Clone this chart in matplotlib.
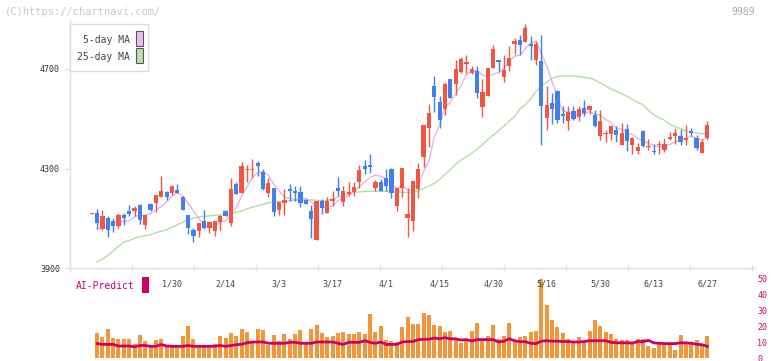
import numpy as np
import pandas as pd
import matplotlib
matplotlib.use('Agg')
import matplotlib.pyplot as plt
from matplotlib.patches import Rectangle

plt.rcParams['font.family'] = ['DejaVu Sans Mono']

# --- data ---
opens = [4118, 4120, 4056, 4100, 4088, 4068, 4112, 4128, 4128, 4152, 4072, 4156, 4160, 4184, 4204, 4200,
         4212, 4184, 4112, 4052, 4048, 4088, 4060, 4048, 4084, 4128, 4080, 4236, 4200, 4294, 4294, 4324,
         4284, 4200, 4220, 4132, 4160, 4216, 4208, 4204, 4172, 4128, 4012, 4168, 4120, 4168, 4220, 4164,
         4196, 4204, 4244, 4312, 4316, 4220, 4244, 4260, 4296, 4149, 4221, 4101, 4089, 4217, 4345, 4461,
         4633, 4568, 4540, 4660, 4640, 4688, 4720, 4684, 4692, 4548, 4592, 4704, 4736, 4668, 4712, 4800,
         4816, 4808, 4798, 4736, 4732, 4504, 4564, 4612, 4520, 4492, 4532, 4508, 4544, 4536, 4516, 4432,
         4440, 4440, 4456, 4396, 4460, 4396, 4372, 4452, 4386, 4370, 4396, 4376, 4420, 4432, 4432, 4416,
         4452, 4424, 4364, 4424]
highs = [4122, 4136, 4132, 4108, 4100, 4120, 4120, 4152, 4148, 4156, 4112, 4160, 4192, 4268, 4208, 4232,
         4236, 4188, 4112, 4060, 4080, 4132, 4084, 4088, 4112, 4132, 4260, 4244, 4328, 4316, 4340, 4332,
         4296, 4260, 4222, 4164, 4216, 4236, 4228, 4228, 4176, 4152, 4168, 4176, 4184, 4208, 4264, 4228,
         4244, 4244, 4313, 4333, 4357, 4253, 4256, 4297, 4301, 4221, 4301, 4221, 4249, 4321, 4473, 4561,
         4673, 4592, 4648, 4660, 4736, 4748, 4756, 4712, 4712, 4660, 4704, 4796, 4736, 4756, 4792, 4824,
         4836, 4880, 4832, 4812, 4836, 4632, 4604, 4616, 4552, 4552, 4552, 4552, 4576, 4552, 4536, 4536,
         4456, 4476, 4472, 4484, 4480, 4428, 4404, 4456, 4420, 4400, 4412, 4424, 4448, 4464, 4460, 4476,
         4464, 4436, 4420, 4492]
lows = [4118, 4056, 4052, 4024, 4044, 4060, 4072, 4108, 4108, 4076, 4056, 4128, 4124, 4184, 4172, 4192,
        4200, 4132, 4036, 4004, 4024, 4056, 4040, 4028, 4052, 4108, 4068, 4196, 4200, 4244, 4260, 4268,
        4212, 4184, 4108, 4112, 4112, 4168, 4168, 4144, 4156, 4020, 4012, 4116, 4120, 4148, 4188, 4148,
        4188, 4188, 4221, 4277, 4281, 4209, 4209, 4209, 4181, 4129, 4185, 4025, 4049, 4181, 4305, 4385,
        4529, 4464, 4516, 4584, 4596, 4684, 4684, 4680, 4584, 4508, 4592, 4704, 4688, 4648, 4692, 4760,
        4756, 4808, 4736, 4716, 4396, 4456, 4480, 4484, 4484, 4456, 4496, 4492, 4512, 4520, 4468, 4416,
        4408, 4416, 4408, 4396, 4372, 4360, 4360, 4388, 4376, 4360, 4360, 4368, 4416, 4400, 4396, 4396,
        4432, 4376, 4364, 4416]
closes = [4122, 4080, 4108, 4052, 4068, 4112, 4100, 4116, 4140, 4092, 4112, 4132, 4192, 4208, 4184, 4228,
          4200, 4132, 4060, 4028, 4080, 4060, 4084, 4088, 4108, 4108, 4216, 4196, 4312, 4298, 4298, 4312,
          4216, 4240, 4124, 4164, 4172, 4208, 4200, 4160, 4156, 4096, 4168, 4140, 4168, 4176, 4208, 4208,
          4204, 4224, 4292, 4296, 4308, 4244, 4208, 4228, 4200, 4221, 4301, 4117, 4249, 4297, 4473, 4525,
          4589, 4496, 4640, 4584, 4700, 4740, 4728, 4700, 4604, 4608, 4704, 4780, 4728, 4696, 4744, 4812,
          4796, 4864, 4794, 4800, 4552, 4556, 4540, 4496, 4512, 4528, 4500, 4540, 4524, 4552, 4472, 4492,
          4444, 4472, 4436, 4444, 4412, 4424, 4388, 4392, 4390, 4366, 4400, 4400, 4428, 4444, 4408, 4424,
          4444, 4384, 4408, 4476]
# closes before the first visible day (needed for the 5-day average)
prior_closes = [4088, 4012, 3978]

# 25-day MA as drawn (day 1 onwards)
ma25 = [3924, 3936, 3950, 3968, 3988, 4004, 4010, 4020, 4026, 4030, 4034, 4042, 4048, 4054, 4064, 4074,
        4084, 4094, 4100, 4106, 4108, 4110, 4112, 4113, 4116, 4120, 4124, 4130, 4138, 4144, 4150, 4156,
        4162, 4166, 4168, 4168, 4170, 4172, 4172, 4174, 4174, 4172, 4170, 4172, 4176, 4184, 4192, 4200,
        4204, 4206, 4208, 4208, 4208, 4208, 4208, 4208, 4206, 4204, 4204, 4206, 4210, 4220, 4230, 4240,
        4256, 4276, 4296, 4318, 4334, 4348, 4362, 4378, 4396, 4416, 4434, 4452, 4470, 4490, 4510, 4540,
        4556, 4580, 4610, 4630, 4648, 4662, 4670, 4672, 4672, 4672, 4670, 4666, 4664, 4656, 4644, 4632,
        4620, 4610, 4600, 4590, 4578, 4566, 4556, 4534, 4516, 4504, 4494, 4478, 4468, 4460, 4452, 4446,
        4442, 4440, 4440]

# volume and AI-Predict (day 1 onwards)
volume = [15.6, 13.1, 17.9, 12.5, 11.7, 11.7, 11.7, 9.0, 14.2, 10.6, 7.9, 11.0, 11.7, 8.3, 7.3, 7.3,
          13.5, 20.0, 11.7, 7.3, 7.3, 7.3, 9.0, 13.5, 12.5, 15.6, 13.5, 17.9, 16.2, 10.6, 18.3, 17.3,
          7.9, 14.2, 10.6, 15.2, 11.7, 14.8, 17.3, 10.0, 17.9, 20.4, 15.6, 13.1, 13.5, 15.6, 16.2, 15.2,
          14.8, 16.2, 14.8, 27.3, 16.2, 19.8, 11.0, 10.6, 10.0, 19.4,
          25.6, 21.1, 21.1, 28.1, 26.7, 20.4, 19.8, 16.2, 16.9, 11.7, 9.4, 11.0, 16.9, 21.9, 11.0, 13.5,
          20.4, 12.1, 13.5, 21.9, 11.0, 13.1, 13.5, 16.2, 16.9, 49.2, 32.9, 23.6, 19.4, 15.6, 11.7, 10.6,
          12.9, 10.6, 16.9, 23.6, 19.8, 16.2, 14.8, 12.1, 11.0, 11.0, 10.0, 12.1, 12.1, 7.3, 6.4, 9.0,
          8.5, 9.0, 5.2, 14.2, 9.0, 10.0, 11.0, 8.5, 13.5]
ai_predict = [9.0, 8.5, 8.5, 8.5, 7.5, 7.5, 7.5, 7.0, 7.8, 7.8, 7.3, 7.3, 8.4, 7.5, 7.3, 7.3,
              7.3, 7.8, 7.3, 7.3, 7.3, 7.3, 7.3, 7.8, 7.3, 7.8, 8.3, 8.6, 9.5, 10.0, 10.0, 10.0,
              9.2, 9.2, 9.2, 9.2, 9.8, 9.8, 9.2, 9.2, 9.2, 10.0, 10.0, 10.0, 10.0, 9.2, 8.5, 9.8,
              9.8, 9.8, 10.8, 9.8, 9.2, 10.0, 8.5, 8.5, 8.5, 10.0,
              10.3, 10.3, 11.5, 11.7, 11.7, 12.5, 12.0, 12.7, 12.0, 12.0, 11.2, 11.5, 10.6, 11.5, 11.5, 11.5,
              11.5, 10.0, 10.5, 12.0, 10.8, 10.2, 10.2, 9.2, 9.0, 10.5, 10.8, 10.5, 10.5, 10.3, 10.3, 10.0,
              10.0, 10.3, 10.8, 10.8, 10.8, 10.8, 9.8, 9.5, 9.5, 9.5, 9.3, 10.3, 10.3, 11.0, 9.5, 9.2,
              9.0, 9.0, 9.0, 9.5, 9.5, 9.2, 8.6, 8.3, 7.3]

date_labels = ['1/30', '2/14', '3/3', '3/17', '4/1', '4/15', '4/30', '5/16', '5/30', '6/13', '6/27']
date_pos = [15, 25, 35, 45, 55, 65, 75, 85, 95, 105, 115]
price_ticks = [3900, 4300, 4700]
vol_ticks = [0, 10, 20, 30, 40, 50]

# --- layout helpers (pixels of the 772x361 picture) ---
W, H = 772, 361
def fx(px):
    return px / W
def fy(py):
    return 1 - py / H

RED = '#f25540'
BLUE = '#3f7ff0'
GRID = '#e0e0e0'
MAGENTA = '#cc0066'

x = np.arange(len(closes))
xv = np.arange(1, len(closes))
ma5 = pd.Series(prior_closes + closes).rolling(5).mean().values[len(prior_closes):]

x_left, x_right = (70 - 91.7) / 5.353, (755 - 91.7) / 5.353

fig = plt.figure(figsize=(W / 100, H / 100), dpi=100)
axv = fig.add_axes([fx(70), fy(358), fx(755) - fx(70), fy(278) - fy(358)])
ax = fig.add_axes([fx(70), fy(268), fx(755) - fx(70), fy(20) - fy(268)])
ax.patch.set_visible(False)
axv.patch.set_visible(False)

# --- candles + moving averages ---
o = np.array(opens)
c = np.array(closes)
cols = [RED if cc >= oo else BLUE for oo, cc in zip(o, c)]
ax.plot(xv, ma25, color='#b4dca4', lw=1, zorder=1)
ax.plot(x[1:], ma5[1:], color='#e6b4e6', lw=1, zorder=1)
ax.vlines(x, lows, highs, colors=cols, lw=1, zorder=2)
ax.bar(x, np.maximum(np.abs(c - o), 4.5), 0.8, np.minimum(o, c), color=cols, lw=0, zorder=3)

ax.set_xlim(x_left, x_right)
ax.set_ylim(3900, 4700 + 49 * 800 / 199)
for s in ['top', 'right']:
    ax.spines[s].set_visible(False)
for s in ['left', 'bottom']:
    ax.spines[s].set_color(GRID)
    ax.spines[s].set_linewidth(1)
ax.set_yticks(price_ticks)
ax.set_yticklabels([str(t) for t in price_ticks])
ax.tick_params(axis='y', length=3.6, width=1, color=GRID, pad=3.6, labelsize=6, labelcolor='#333333')
ax.set_xticks([x_left + 11.58 * k for k in range(12)])
ax.set_xticklabels([])
ax.set_xticks(date_pos, minor=True)
ax.set_xticklabels(date_labels, minor=True)
ax.tick_params(axis='x', which='major', direction='inout', length=5, width=1, color=GRID)
ax.tick_params(axis='x', which='minor', length=0, pad=8, labelsize=6, labelcolor='#444444')

# --- volume panel ---
axv.bar(xv, volume, 0.75, color='#f2963c', lw=0)
axv.plot(xv, ai_predict, color=MAGENTA, lw=2)
axv.set_xlim(x_left, x_right)
axv.set_ylim(0, 50)
for s in axv.spines.values():
    s.set_visible(False)
axv.set_xticks([])
axv.yaxis.tick_right()
axv.set_yticks(vol_ticks)
axv.tick_params(axis='y', length=0, pad=1.5, labelsize=6, labelcolor=MAGENTA)

# --- texts, legend box ---
fig.text(fx(5), fy(12), '(C)https://chartnavi.com/', fontsize=7.5, color='#c8c8c8', va='center')
fig.text(fx(755), fy(12), '9989', fontsize=7, color='#aaaaaa', va='center', ha='right')
fig.text(fx(76), fy(286), 'AI-Predict', fontsize=7, color=MAGENTA, va='center')

def rect(px, py, w, h, **kw):
    fig.add_artist(Rectangle((fx(px), fy(py + h)), w / W, h / H, transform=fig.transFigure, **kw))

rect(142, 277, 7, 16, fc=MAGENTA, ec='none')
rect(70, 24, 78, 47, fc='white', ec='#dddddd', lw=1, zorder=5)
rect(136, 31, 7, 15, fc='#eebbee', ec='#555555', lw=0.8, zorder=6)
rect(136, 48, 7, 15, fc='#bbddaa', ec='#555555', lw=0.8, zorder=6)
fig.text(fx(130), fy(40), '5-day MA', fontsize=7, color='#444444', va='center', ha='right', zorder=6)
fig.text(fx(130), fy(57), '25-day MA', fontsize=7, color='#444444', va='center', ha='right', zorder=6)

fig.savefig('out.png', dpi=100)
